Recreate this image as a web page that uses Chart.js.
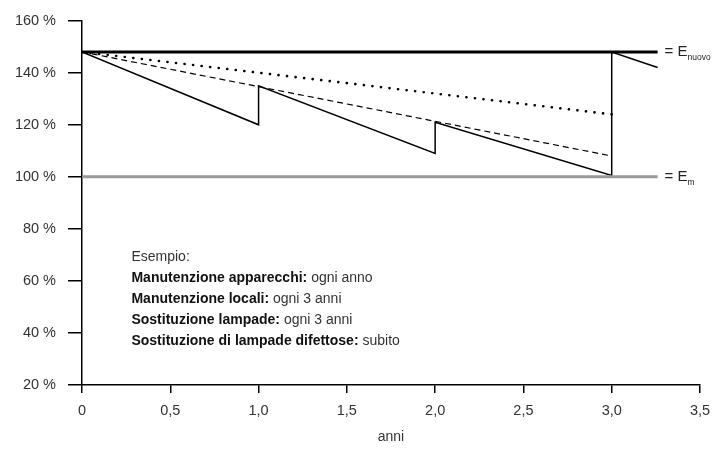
<!DOCTYPE html>
<html>
<head>
<meta charset="utf-8">
<script src="https://cdn.jsdelivr.net/npm/chart.js@4.4.0/dist/chart.umd.min.js"></script>
<style>
  html, body { margin: 0; padding: 0; background: #fff; }
  #wrap { width: 718px; height: 450px; position: relative; }
</style>
</head>
<body>
<div id="wrap"><canvas id="c"></canvas></div>
<script>
// values
var sawX = [0, 1, 1, 2, 2, 3, 3, 3.26]
var sawY = [148, 120, 135, 109, 121, 100.5, 148, 142]
var roomX = [0, 3]
var roomY = [148, 108]
var lampX = [0, 3]
var lampY = [148, 124]
var refX = [0, 3.26]
var eNuovo = 148
var eM = 100

var noteTitle = 'Esempio:'
var noteBold = ['Manutenzione apparecchi:', 'Manutenzione locali:', 'Sostituzione lampade:', 'Sostituzione di lampade difettose:']
var noteText = ['ogni anno', 'ogni 3 anni', 'ogni 3 anni', 'subito']

var FONT = '"Liberation Sans", Arial, sans-serif'

function pts(xs, ys) {
    return xs.map(function (x, i) { return { x: x, y: ys[i] } })
}

var labelsPlugin = {
    id: 'labels',
    afterDraw: function (chart) {
        var ctx = chart.ctx
        var xs = chart.scales.x
        var ys = chart.scales.y
        ctx.save()
        ctx.fillStyle = '#222'
        ctx.textBaseline = 'middle'

        // right-hand labels
        var lx = xs.getPixelForValue(refX[1]) + 7
        ctx.font = '15px ' + FONT
        ctx.fillText('= E', lx, ys.getPixelForValue(eNuovo))
        ctx.fillText('= E', lx, ys.getPixelForValue(eM))
        var w = ctx.measureText('= E').width
        ctx.font = '8.5px ' + FONT
        ctx.fillText('nuovo', lx + w, ys.getPixelForValue(eNuovo) + 6)
        ctx.fillText('m', lx + w, ys.getPixelForValue(eM) + 6)

        // example note
        var nx = xs.getPixelForValue(0.28)
        var ny = ys.getPixelForValue(69.3)
        ctx.font = '14px ' + FONT
        ctx.fillStyle = '#333'
        ctx.fillText(noteTitle, nx, ny)
        for (var i = 0; i < noteBold.length; i++) {
            var y = ny + 21 * (i + 1)
            ctx.font = 'bold 14px ' + FONT
            ctx.fillStyle = '#111'
            ctx.fillText(noteBold[i], nx, y)
            var bw = ctx.measureText(noteBold[i] + ' ').width
            ctx.font = '14px ' + FONT
            ctx.fillStyle = '#333'
            ctx.fillText(noteText[i], nx + bw, y)
        }
        ctx.restore()
    }
}

new Chart(document.getElementById('c'), {
    type: 'scatter',
    data: {
        datasets: [
            {
                data: pts(refX, [eM, eM]),
                showLine: true, borderColor: '#999', borderWidth: 3, pointRadius: 0
            },
            {
                data: pts(refX, [eNuovo, eNuovo]),
                showLine: true, borderColor: '#000', borderWidth: 3, pointRadius: 0
            },
            {
                data: pts(lampX, lampY),
                showLine: true, borderColor: '#000', borderWidth: 2.6, pointRadius: 0,
                borderDash: [0.1, 8.5], borderCapStyle: 'round'
            },
            {
                data: pts(roomX, roomY),
                showLine: true, borderColor: '#000', borderWidth: 1.2, pointRadius: 0,
                borderDash: [6, 4]
            },
            {
                data: pts(sawX, sawY),
                showLine: true, borderColor: '#000', borderWidth: 1.5, pointRadius: 0,
                tension: 0
            }
        ]
    },
    options: {
        responsive: true,
        maintainAspectRatio: false,
        animation: false,
        layout: { padding: { top: 12, right: 0, left: 0, bottom: 0 } },
        plugins: { legend: { display: false }, tooltip: { enabled: false } },
        scales: {
            x: {
                type: 'linear', min: 0, max: 3.5,
                grid: { drawOnChartArea: false, drawTicks: true, tickLength: 8, color: '#000', lineWidth: 1.5 },
                border: { display: true, color: '#000', width: 1.5 },
                ticks: {
                    stepSize: 0.5, padding: 9, color: '#333',
                    font: { family: FONT, size: 14.5 },
                    callback: function (v) { return v === 0 ? '0' : v.toFixed(1).replace('.', ',') }
                },
                title: { display: true, text: 'anni', color: '#333', font: { family: FONT, size: 14 }, padding: { top: 6 } },
                afterFit: function (s) { s.height = 65; s.paddingRight = 18 }
            },
            y: {
                min: 20, max: 160,
                grid: { drawOnChartArea: false, drawTicks: true, tickLength: 14, color: '#000', lineWidth: 1.5 },
                border: { display: true, color: '#000', width: 1.5 },
                ticks: {
                    stepSize: 20, padding: 12, color: '#333',
                    font: { family: FONT, size: 14.5 },
                    callback: function (v) { return v + ' %' }
                },
                afterFit: function (s) { s.width = 82 }
            }
        }
    },
    plugins: [labelsPlugin]
});
</script>
</body>
</html>
